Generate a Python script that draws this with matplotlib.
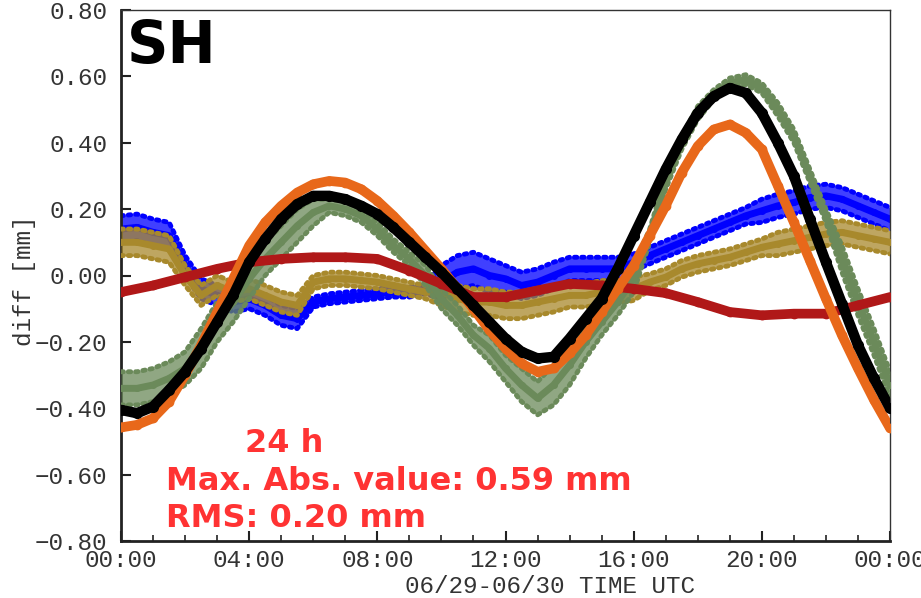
import matplotlib
matplotlib.use("Agg")
import matplotlib.pyplot as plt
from matplotlib.ticker import MultipleLocator

# ---- data (hours since 06/29 00:00 UTC, diff in mm) ----
hours = [i * 0.5 for i in range(49)]

black = [-0.405, -0.415, -0.395, -0.345, -0.29, -0.22, -0.14, -0.06, 0.04, 0.11,
         0.17, 0.215, 0.24, 0.24, 0.23, 0.21, 0.185, 0.145, 0.10, 0.055,
         0.01, -0.04, -0.09, -0.14, -0.19, -0.23, -0.25, -0.245, -0.19, -0.13,
         -0.07, 0.02, 0.12, 0.22, 0.32, 0.41, 0.49, 0.54, 0.565, 0.55,
         0.49, 0.40, 0.30, 0.17, 0.04, -0.085, -0.21, -0.31, -0.40]

orange = [-0.458, -0.45, -0.43, -0.38, -0.30, -0.21, -0.11, -0.01, 0.09, 0.16,
          0.21, 0.25, 0.275, 0.285, 0.28, 0.26, 0.225, 0.18, 0.13, 0.075,
          0.02, -0.04, -0.10, -0.165, -0.22, -0.265, -0.29, -0.28, -0.235, -0.18,
          -0.11, -0.04, 0.03, 0.12, 0.21, 0.31, 0.39, 0.44, 0.455, 0.43,
          0.38, 0.27, 0.16, 0.045, -0.07, -0.18, -0.28, -0.375, -0.46]

green = [-0.34, -0.34, -0.33, -0.31, -0.28, -0.22, -0.14, -0.08, -0.01, 0.05,
         0.10, 0.15, 0.19, 0.21, 0.20, 0.18, 0.14, 0.09, 0.05, 0.0,
         -0.07, -0.12, -0.18, -0.22, -0.28, -0.33, -0.37, -0.33, -0.27, -0.2,
         -0.14, -0.08, -0.01, 0.12, 0.28, 0.40, 0.49, 0.545, 0.58, 0.59,
         0.565, 0.50, 0.42, 0.30, 0.18, 0.05, -0.08, -0.20, -0.33]
green_spread = [0.05, 0.05, 0.05, 0.05, 0.05, 0.06, 0.06, 0.06, 0.06, 0.05,
                0.05, 0.05, 0.04, 0.02, 0.02, 0.02, 0.02, 0.02, 0.02, 0.03,
                0.03, 0.03, 0.03, 0.04, 0.04, 0.05, 0.05, 0.06, 0.06, 0.05,
                0.04, 0.04, 0.04, 0.02, 0.02, 0.02, 0.02, 0.015, 0.015, 0.015,
                0.015, 0.02, 0.02, 0.02, 0.02, 0.04, 0.04, 0.04, 0.04]

blue = [0.14, 0.145, 0.13, 0.12, 0.03, -0.04, -0.06, -0.08, -0.07, -0.09,
        -0.12, -0.13, -0.08, -0.07, -0.065, -0.06, -0.055, -0.05, -0.05, -0.04,
        -0.02, 0.01, 0.02, 0.0, -0.01, -0.03, -0.02, 0.0, 0.02, 0.02,
        0.02, 0.02, 0.04, 0.06, 0.08, 0.10, 0.12, 0.14, 0.16, 0.18,
        0.195, 0.21, 0.22, 0.235, 0.24, 0.23, 0.21, 0.19, 0.17]
blue_spread = [0.04, 0.04, 0.04, 0.04, 0.03, 0.03, 0.03, 0.03, 0.03, 0.03,
               0.03, 0.03, 0.015, 0.015, 0.015, 0.015, 0.015, 0.015, 0.015, 0.015,
               0.05, 0.05, 0.05, 0.05, 0.04, 0.04, 0.04, 0.04, 0.035, 0.035,
               0.035, 0.035, 0.025, 0.025, 0.025, 0.025, 0.025, 0.025, 0.025, 0.025,
               0.035, 0.035, 0.035, 0.035, 0.035, 0.035, 0.035, 0.035, 0.035]

gold = [0.10, 0.10, 0.09, 0.08, 0.0, -0.06, -0.03, -0.05, -0.04, -0.06,
        -0.08, -0.09, -0.02, -0.01, -0.01, -0.015, -0.02, -0.03, -0.04, -0.05,
        -0.05, -0.07, -0.08, -0.08, -0.09, -0.09, -0.08, -0.07, -0.06, -0.06,
        -0.05, -0.05, -0.04, -0.02, -0.005, 0.02, 0.035, 0.045, 0.055, 0.07,
        0.085, 0.095, 0.105, 0.115, 0.125, 0.13, 0.12, 0.11, 0.10]
gold_spread = [0.04, 0.04, 0.04, 0.04, 0.03, 0.03, 0.03, 0.03, 0.03, 0.03,
               0.03, 0.03, 0.02, 0.02, 0.02, 0.02, 0.02, 0.02, 0.02, 0.02,
               0.04, 0.04, 0.04, 0.04, 0.04, 0.04, 0.04, 0.04, 0.035, 0.035,
               0.035, 0.035, 0.035, 0.025, 0.025, 0.025, 0.025, 0.025, 0.025, 0.025,
               0.025, 0.035, 0.035, 0.035, 0.035, 0.035, 0.035, 0.035, 0.035]

hours_red = list(range(25))
red = [-0.05, -0.03, -0.005, 0.02, 0.04, 0.05, 0.055, 0.055, 0.05, 0.015,
       -0.025, -0.065, -0.065, -0.045, -0.025, -0.03, -0.04, -0.053, -0.08, -0.11,
       -0.12, -0.115, -0.115, -0.09, -0.065]

xticks = [0, 4, 8, 12, 16, 20, 24]
xticklabels = ['00:00', '04:00', '08:00', '12:00', '16:00', '20:00', '00:00']
yticks = [0.8, 0.6, 0.4, 0.2, 0.0, -0.2, -0.4, -0.6, -0.8]

C_BLUE = '#0000ff'
C_GOLD = '#a8892c'
C_GREEN = '#6b8a5a'
C_RED = '#b01818'
C_ORANGE = '#e8681a'
C_BLACK = '#000000'
C_TEXT = '#ff3333'
MONO = 'Liberation Mono'

fig = plt.figure(figsize=(9.21, 5.98), dpi=100)
ax = fig.add_axes([121 / 921, 1 - 541 / 598, 769 / 921, 531 / 598])


def band(ax, x, y, spread, color, z):
    # noisy series: a dotted envelope around a thick centre trace
    lo = [a - s for a, s in zip(y, spread)]
    hi = [a + s for a, s in zip(y, spread)]
    ax.fill_between(x, lo, hi, color=color, lw=0, alpha=0.75, zorder=z)
    ax.plot(x, lo, color=color, lw=3.5, ls=(0, (0.5, 1.0)), dash_capstyle='round', zorder=z)
    ax.plot(x, hi, color=color, lw=3.5, ls=(0, (0.5, 1.0)), dash_capstyle='round', zorder=z)
    ax.plot(x, y, color=color, lw=5, marker='o', ms=4, solid_capstyle='round', zorder=z)


band(ax, hours, blue, blue_spread, C_BLUE, 2)
band(ax, hours, gold, gold_spread, C_GOLD, 3)
band(ax, hours, green, green_spread, C_GREEN, 4)
ax.plot(hours_red, red, color=C_RED, lw=7, marker='o', ms=6, solid_capstyle='round', zorder=5)
ax.plot(hours, orange, color=C_ORANGE, lw=7, marker='o', ms=6, solid_capstyle='round', zorder=6)
ax.plot(hours, black, color=C_BLACK, lw=7.5, marker='o', ms=7, solid_capstyle='round', zorder=7)

ax.set_xlim(0, 24)
ax.set_ylim(-0.8, 0.8)
ax.set_xticks(xticks)
ax.set_xticklabels(xticklabels)
ax.xaxis.set_minor_locator(MultipleLocator(1))
ax.set_yticks(yticks)
ax.set_yticklabels([f'{v:.2f}'.replace('-', '\u2212') for v in yticks])

for side in ['left', 'bottom']:
    ax.spines[side].set_linewidth(2)
    ax.spines[side].set_color('#222222')
for side in ['top', 'right']:
    ax.spines[side].set_linewidth(1)
    ax.spines[side].set_color('#333333')

ax.tick_params(axis='both', which='major', direction='in', length=7, width=1.5,
               color='#222222', labelcolor='#333333', labelsize=17.5)
ax.tick_params(axis='x', which='minor', direction='in', length=4, width=1.2, color='#222222')
ax.tick_params(axis='y', pad=10)
ax.tick_params(axis='x', pad=6)
for lab in ax.get_xticklabels() + ax.get_yticklabels():
    lab.set_family(MONO)

fig.text(550 / 921, 0.008, '06/29-06/30 TIME UTC', family=MONO, fontsize=17.5,
         color='#333333', ha='center', va='baseline')
fig.text(25 / 921, 1 - 281 / 598, 'diff [mm]', family=MONO, fontsize=17.5,
         color='#333333', ha='center', va='center', rotation=90)

fig.text(127 / 921, 1 - 63 / 598, 'SH', fontsize=41.5, fontweight='bold',
         color='black', ha='left', va='baseline', zorder=10)

fig.text(245 / 921, 1 - 452 / 598, '24 h', fontsize=23, fontweight='bold',
         color=C_TEXT, ha='left', va='baseline')
fig.text(166 / 921, 1 - 490 / 598, 'Max. Abs. value: 0.59 mm', fontsize=23,
         fontweight='bold', color=C_TEXT, ha='left', va='baseline')
fig.text(166 / 921, 1 - 527 / 598, 'RMS: 0.20 mm', fontsize=23, fontweight='bold',
         color=C_TEXT, ha='left', va='baseline')

fig.savefig('out.png', dpi=100)
